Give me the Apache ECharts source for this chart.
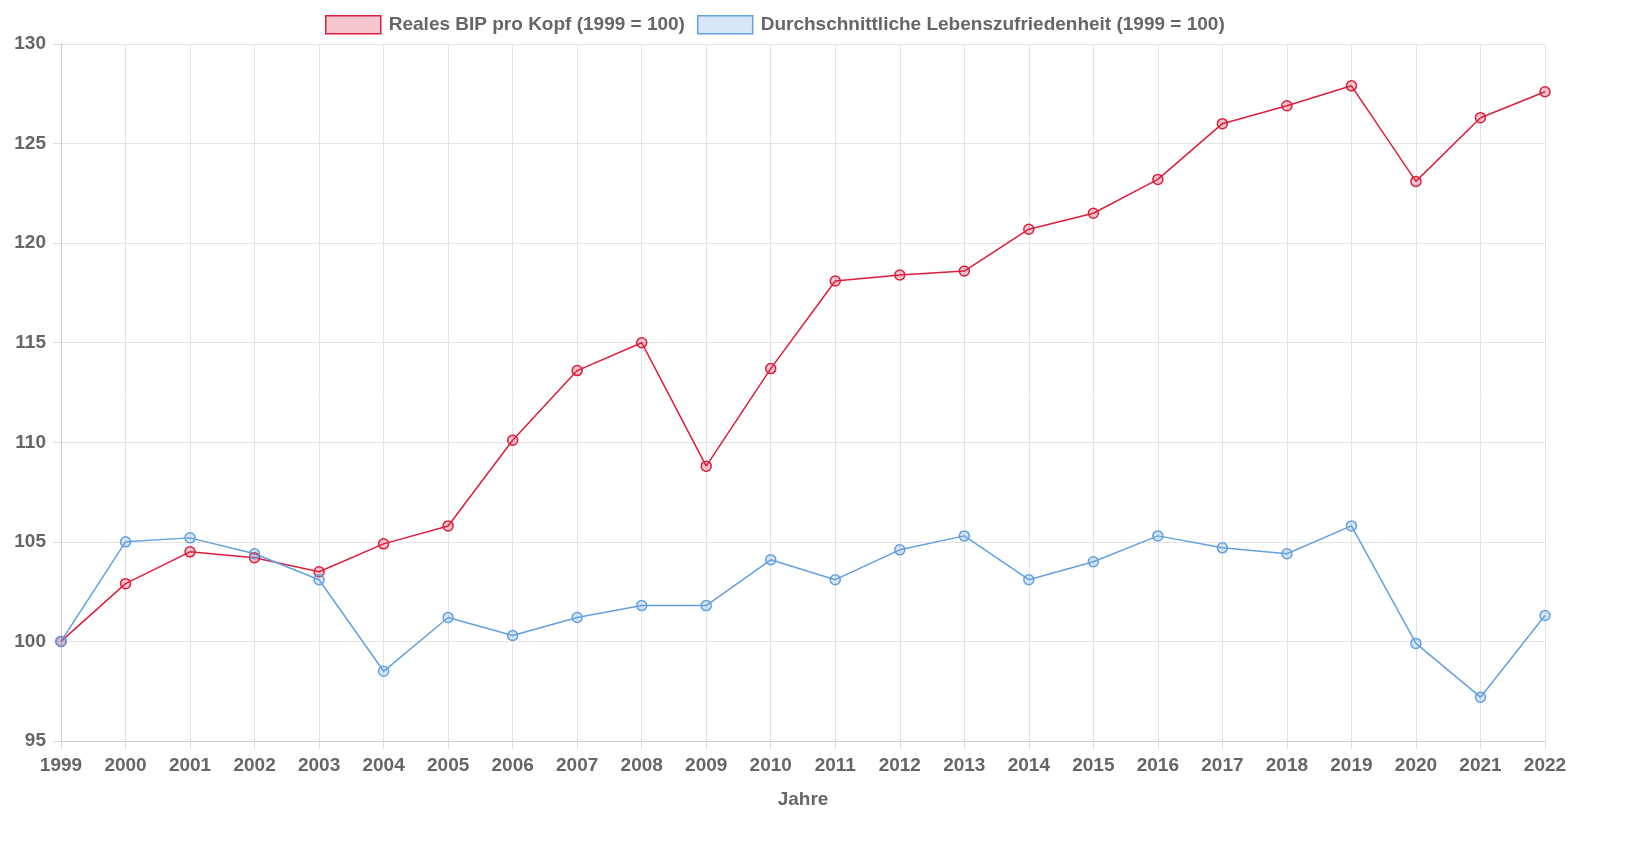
<!DOCTYPE html>
<html><head><meta charset="utf-8">
<script src="https://cdn.jsdelivr.net/npm/echarts@6/dist/echarts.min.js"></script>
<style>html,body{margin:0;padding:0;background:#fff}#c{width:1647px;height:850px}</style>
</head><body><div id="c"></div>
<script>
const years = ['1999','2000','2001','2002','2003','2004','2005','2006','2007','2008','2009','2010','2011','2012','2013','2014','2015','2016','2017','2018','2019','2020','2021','2022'];
const bip = [100,102.9,104.5,104.2,103.5,104.9,105.8,110.1,113.6,115,108.8,113.7,118.1,118.4,118.6,120.7,121.5,123.2,126,126.9,127.9,123.1,126.3,127.6];
const leben = [100,105,105.2,104.4,103.1,98.5,101.2,100.3,101.2,101.8,101.8,104.1,103.1,104.6,105.3,103.1,104,105.3,104.7,104.4,105.8,99.9,97.2,101.3];
const yTicks = {min:95, max:130, interval:5};
const names = ['Reales BIP pro Kopf (1999 = 100)','Durchschnittliche Lebenszufriedenheit (1999 = 100)'];

const red = 'rgb(220,30,60)', redFill = 'rgba(220,30,60,0.25)';
const blue = 'rgb(100,160,225)', blueFill = 'rgba(100,160,225,0.25)';
const font = 'Liberation Sans, Arial, sans-serif';

const chart = echarts.init(document.getElementById('c'));
chart.setOption({
  animation:false,
  textStyle:{fontFamily:font},
  legend:{
    top:10, left:320, itemWidth:55, itemHeight:18, itemGap:12,
    textStyle:{color:'#666', fontSize:19, fontWeight:'bold', fontFamily:font, padding:[0,0,0,3]},
    data:[
      {name:names[0], icon:'rect', itemStyle:{color:redFill, borderColor:red, borderWidth:1.5}},
      {name:names[1], icon:'rect', itemStyle:{color:blueFill, borderColor:blue, borderWidth:1.5}}
    ]
  },
  grid:{left:61, right:102, top:44, bottom:109, containLabel:false},
  xAxis:{
    type:'category', data:years, boundaryGap:false,
    name:'Jahre', nameLocation:'middle', nameGap:49,
    nameTextStyle:{color:'#666', fontSize:19, fontWeight:'bold', fontFamily:font},
    axisLine:{lineStyle:{color:'#ccc'}},
    axisTick:{show:true, length:8, lineStyle:{color:'#ddd'}},
    axisLabel:{color:'#666', fontSize:19, fontWeight:'bold', margin:15, interval:0},
    splitLine:{show:true, lineStyle:{color:'#e4e4e4'}}
  },
  yAxis:{
    type:'value', min:yTicks.min, max:yTicks.max, interval:yTicks.interval,
    axisLine:{show:true, lineStyle:{color:'#ccc'}},
    axisTick:{show:true, length:8, lineStyle:{color:'#ddd'}},
    axisLabel:{color:'#666', fontSize:19, fontWeight:'bold', margin:15},
    splitLine:{show:true, lineStyle:{color:'#e4e4e4'}}
  },
  series:[
    {name:names[0], type:'line', data:bip, symbol:'circle', symbolSize:10,
     lineStyle:{color:red, width:1.5},
     itemStyle:{color:redFill, borderColor:red, borderWidth:1.5}},
    {name:names[1], type:'line', data:leben, symbol:'circle', symbolSize:10,
     lineStyle:{color:blue, width:1.5},
     itemStyle:{color:blueFill, borderColor:blue, borderWidth:1.5}}
  ]
});
</script></body></html>
